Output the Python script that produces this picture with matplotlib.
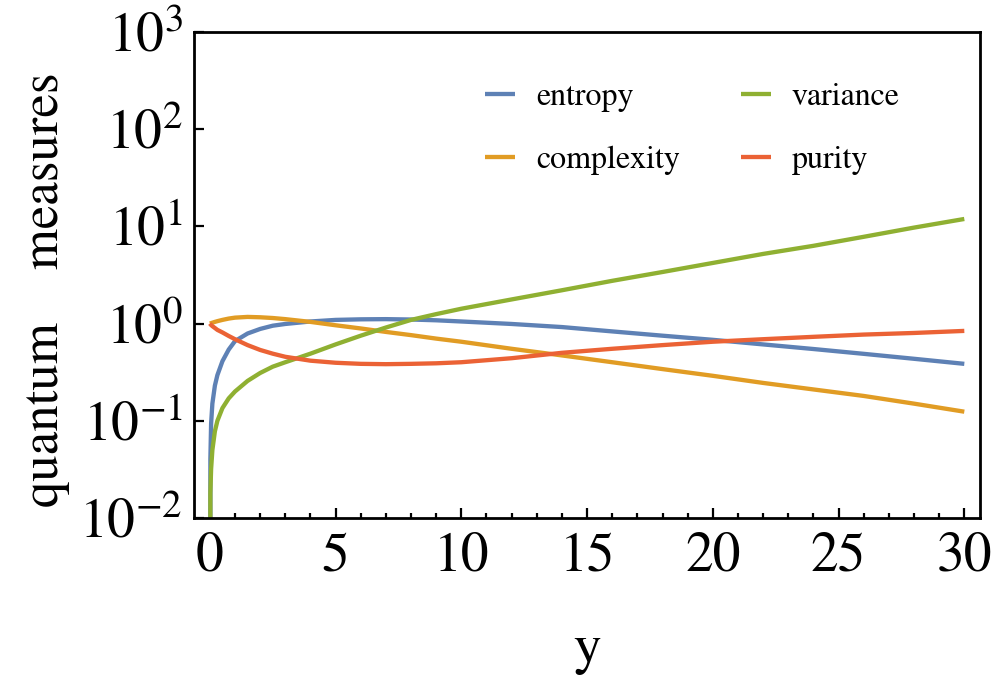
import numpy as np
import matplotlib
matplotlib.use("Agg")
import matplotlib.pyplot as plt
from matplotlib.ticker import LogLocator, MultipleLocator, NullLocator

plt.rcParams['font.family'] = ['STIXGeneral', 'DejaVu Serif']
plt.rcParams['mathtext.fontset'] = 'stix'

# valores
yv = [0, 0.02, 0.05, 0.1, 0.2, 0.3, 0.5, 0.75, 1, 1.5, 2, 2.5, 3, 4, 5, 6, 7,
      8, 9, 10, 12, 14, 16, 18, 20, 22, 24, 26, 28, 30]
entropy = [0, 0.04, 0.094, 0.15, 0.23, 0.295, 0.41, 0.54, 0.66, 0.79, 0.88,
           0.95, 0.99, 1.05, 1.09, 1.105, 1.11, 1.10, 1.08, 1.05, 0.99, 0.92,
           0.83, 0.75, 0.68, 0.61, 0.547, 0.488, 0.434, 0.385]
complexity = [1.0, 1.004, 1.01, 1.02, 1.04, 1.058, 1.09, 1.125, 1.15, 1.17,
              1.16, 1.14, 1.11, 1.04, 0.96, 0.89, 0.82, 0.76, 0.70, 0.65, 0.55,
              0.47, 0.40, 0.34, 0.29, 0.245, 0.21, 0.18, 0.15, 0.124]
variance = [0, 0.018, 0.032, 0.05, 0.078, 0.10, 0.135, 0.17, 0.20, 0.257,
            0.31, 0.36, 0.40, 0.49, 0.61, 0.75, 0.91, 1.09, 1.25, 1.42, 1.77,
            2.2, 2.75, 3.39, 4.2, 5.2, 6.3, 7.8, 9.7, 11.9]
purity = [1.0, 0.985, 0.965, 0.94, 0.90, 0.86, 0.81, 0.745, 0.69, 0.60, 0.535,
          0.49, 0.455, 0.415, 0.395, 0.385, 0.382, 0.385, 0.39, 0.40, 0.44,
          0.50, 0.55, 0.60, 0.65, 0.69, 0.73, 0.77, 0.80, 0.84]

series = [('entropy', entropy, '#5E81B5'),
          ('complexity', complexity, '#E19C24'),
          ('variance', variance, '#8FB032'),
          ('purity', purity, '#EB6235')]

fig = plt.figure(figsize=(9.97, 6.78), dpi=100)
ax = fig.add_axes([0.1946, 0.236, 0.7885, 0.717])

for nombre, datos, col in series:
    ax.plot(yv, datos, color=col, lw=3.1, label=nombre, solid_capstyle='butt')

ax.set_yscale('log', nonpositive='clip')
ax.set_ylim(1e-2, 1e3)
ax.set_xlim(-0.63, 30.63)
ax.yaxis.set_major_locator(LogLocator(base=10, numticks=10))
ax.yaxis.set_minor_locator(NullLocator())
ax.xaxis.set_major_locator(MultipleLocator(5))
ax.xaxis.set_minor_locator(MultipleLocator(1))

for s in ax.spines.values():
    s.set_linewidth(2.0)
ax.tick_params(which='both', direction='in', top=False, right=False,
               width=1.6, labelsize=40)
ax.tick_params(which='major', length=7)
ax.tick_params(which='minor', length=3.5)
ax.tick_params(axis='y', pad=8)
ax.tick_params(axis='x', pad=10)

ax.set_xlabel('y', fontsize=40, labelpad=30)
ax.set_ylabel('quantum    measures', fontsize=38)
ax.yaxis.set_label_coords(-0.158, 0.469)

ax.legend(ncol=2, frameon=False, fontsize=23, loc='upper left',
          bbox_to_anchor=(0.37, 0.895), borderpad=0, borderaxespad=0,
          handlelength=0.95, handletextpad=0.65, columnspacing=1.9,
          labelspacing=1.05)

fig.savefig('out.png', dpi=100)
